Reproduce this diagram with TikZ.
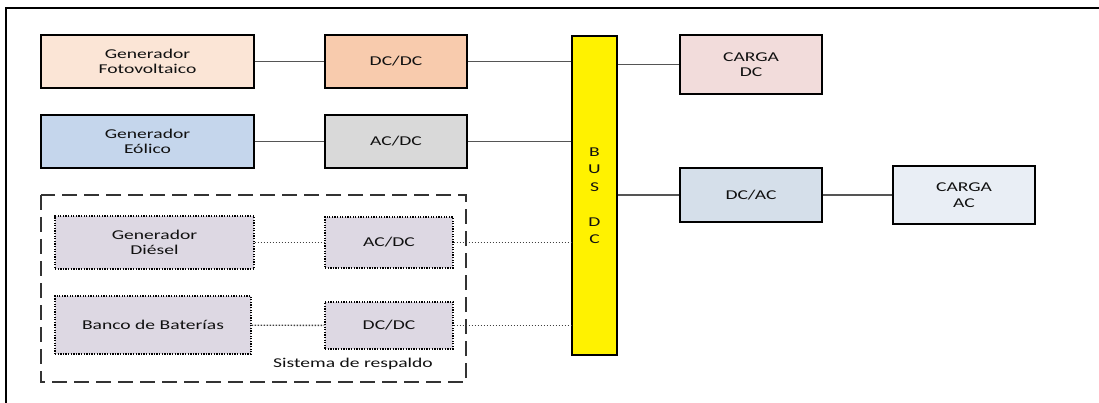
\documentclass[tikz,border=0pt]{standalone}
\usepackage{fontspec}
\setmainfont{Carlito}[FakeStretch=1.45]
\definecolor{pvfill}{HTML}{FBE5D6}
\definecolor{dcdcfill}{HTML}{F8CBAD}
\definecolor{windfill}{HTML}{C5D6EC}
\definecolor{acdcfill}{HTML}{D9D9D9}
\definecolor{backfill}{HTML}{DDD8E3}
\definecolor{loaddcfill}{HTML}{F2DCDB}
\definecolor{dcacfill}{HTML}{D5DFEA}
\definecolor{loadacfill}{HTML}{E9EEF5}
\definecolor{wire}{HTML}{555555}
\definecolor{txt}{HTML}{111111}
\tikzset{
  blk/.style={draw=black, line width=1.3pt, inner sep=0pt, align=center,
    text=txt, font=\fontsize{13.5}{15.5}\selectfont},
  backblk/.style={blk, fill=backfill, line width=1.2pt, dash pattern=on 1.3pt off 1.3pt},
  wireline/.style={draw=wire, line width=1.2pt},
  dotwire/.style={draw=black!75, line width=1.4pt, dash pattern=on 1.5pt off 1.5pt},
}
\begin{document}
\begin{tikzpicture}[x=1pt, y=-1pt]
\useasboundingbox (0,0) rectangle (1099,403);
% outer frame (open towards the right and bottom)
\draw[line width=1.3pt] (6,403) -- (6,8) -- (1099,8);

% generation branch
\node[blk, fill=pvfill, minimum width=213pt, minimum height=53pt] (pv) at (147.5,61.5) {Generador\\Fotovoltaico};
\node[blk, fill=dcdcfill, minimum width=142pt, minimum height=53pt] (dcdcA) at (396,61.5) {DC/DC};
\node[blk, fill=windfill, minimum width=213pt, minimum height=53pt] (wind) at (147.5,141.5) {Generador\\Eólico};
\node[blk, fill=acdcfill, minimum width=142pt, minimum height=53pt] (acdcA) at (396,141.5) {AC/DC};

% DC bus
\node[blk, fill=yellow, minimum width=45pt, minimum height=319pt,
  font=\fontsize{13.5}{17.5}\selectfont] (bus) at (594.5,195.5) {B\\U\\S\\[17.5pt]D\\C};

% loads
\node[blk, fill=loaddcfill, minimum width=142pt, minimum height=59pt] (loaddc) at (751,64.5) {CARGA\\DC};
\node[blk, fill=dcacfill, minimum width=142pt, minimum height=54pt] (dcac) at (751,195) {DC/AC};
\node[blk, fill=loadacfill, minimum width=142pt, minimum height=58pt] (loadac) at (964,195) {CARGA\\AC};

% backup system
\node[backblk, minimum width=199pt, minimum height=53pt] (diesel) at (154.5,242.5) {Generador\\Diésel};
\node[backblk, minimum width=128pt, minimum height=51pt] (acdcB) at (389,242.5) {AC/DC};
\node[backblk, minimum width=196pt, minimum height=58pt] (bank) at (153,325) {Banco de Baterías};
\node[backblk, minimum width=128pt, minimum height=47pt] (dcdcB) at (389,325.5) {DC/DC};
\draw[draw=black!80, line width=1.3pt, dash pattern=on 15pt off 7pt] (41,195) rectangle (466,382);
\node[text=txt, font=\fontsize{13.5}{15.5}\selectfont, inner sep=0pt] (backlabel) at (353,364) {Sistema de respaldo};

% connections
\draw[wireline] (pv) -- (dcdcA);
\draw[wireline] (dcdcA.east) -- (dcdcA.east -| bus.west);
\draw[wireline] (wind) -- (acdcA);
\draw[wireline] (acdcA.east) -- (acdcA.east -| bus.west);
\draw[wireline] (loaddc.west -| bus.east) -- (loaddc.west);
\draw[wireline] (dcac.west -| bus.east) -- (dcac.west);
\draw[wireline] (dcac) -- (loadac);
\draw[dotwire] (diesel) -- (acdcB);
\draw[dotwire] (acdcB.east) -- (acdcB.east -| bus.west);
\draw[dotwire] (bank) -- (dcdcB);
\draw[dotwire] (dcdcB.east) -- (dcdcB.east -| bus.west);
\end{tikzpicture}
\end{document}
